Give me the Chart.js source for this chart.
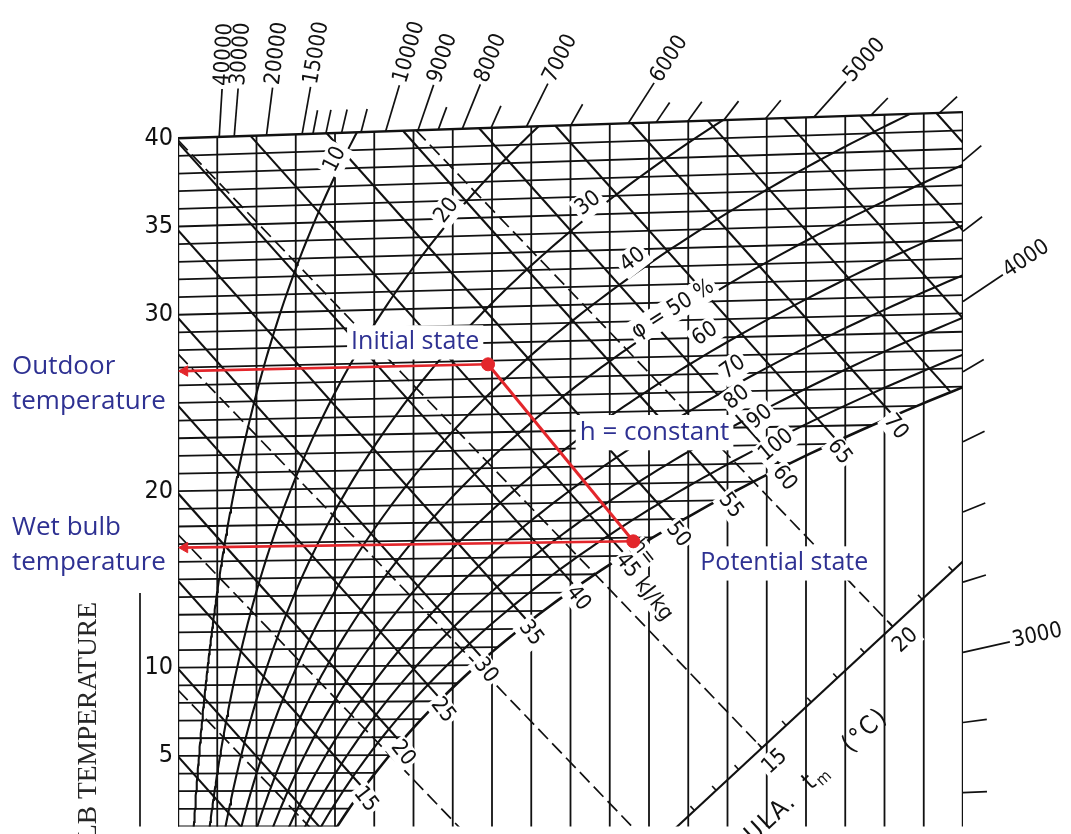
<!DOCTYPE html>
<html>
<head>
<meta charset="utf-8">
<script src="https://cdn.jsdelivr.net/npm/chart.js@4.4.1/dist/chart.umd.min.js"></script>
<style>
  html, body { margin: 0; padding: 0; background: #fff; }
  #wrap { width: 1071px; height: 834px; position: relative; }
</style>
</head>
<body>
<div id="wrap"><canvas id="hx"></canvas></div>
<script>
// values
const moistureLines = [0, 1, 2, 3, 4, 5, 6, 7, 8, 9, 10, 11, 12, 13, 14, 15, 16, 17, 18, 19, 20]; // g/kg
const isothermLines = [0, 1, 2, 3, 4, 5, 6, 7, 8, 9, 10, 11, 12, 13, 14, 15, 16, 17, 18, 19, 20,
                       21, 22, 23, 24, 25, 26, 27, 28, 29, 30, 31, 32, 33, 34, 35, 36, 37, 38, 39, 40]; // °C
const enthalpyLines = [5, 10, 15, 20, 25, 30, 35, 40, 45, 50, 55, 60, 65, 70, 75, 80, 85, 90]; // kJ/kg
const rhLines = [10, 20, 30, 40, 50, 60, 70, 80, 90]; // %
const wetBulbLines = [0, 5, 10, 15, 20]; // °C, dashed
const tempTicks = [5, 10, 20, 30, 35, 40];
const enthalpyTicks = [15, 20, 25, 30, 35, 40, 45, 50, 55, 60, 65, 70];
const edgeTicks = [40000, 30000, 20000, 15000, 14000, 13000, 12000, 11000, 10000, 9000, 8500, 8000, 7500,
                   7000, 6500, 6000, 5800, 5600, 5400, 5200, 5000, 4800, 4600, 4400, 4200, 4000, 3800,
                   3600, 3400, 3200, 3000, 2800, 2600];
const edgeTickLabels = [40000, 30000, 20000, 15000, 10000, 9000, 8000, 7000, 6000, 5000, 4000, 3000];
const wbScaleTicks = [12, 13, 14, 15, 16, 17, 18, 19, 20, 21, 22];
const wbScaleLabels = [15, 20];
const rhLabelText = ['10', '20', '30', '40', 'φ = 50 %', '60', '70', '80', '90', '100'];
const rhLabelX = [4.0, 6.85, 10.45, 11.59, 12.61, 13.43, 14.14, 14.24, 14.83, 15.24];
const rhLabelY = [38.8, 35.9, 36.3, 33.1, 30.3, 28.9, 27.0, 25.3, 24.2, 22.6];
const rhLabelAngle = [-63, -52, -38, -38, -32, -35, -35, -38, -40, -40];
const stateX = [7.9, 11.6];   // initial, potential (g/kg)
const stateT = [26.8, 16.8];  // °C

const INK = '#111';
const RED = '#e3262b';
const BLUE = '#2e3192';
const NUM_FONT = '"DejaVu Sans Condensed", "Liberation Sans Narrow", "DejaVu Sans", sans-serif';
const LBL_FONT = '"Open Sans", "Noto Sans", sans-serif';

// h-x (Mollier) geometry
const P_ATM = 101.325, R0 = 2.501, CPA = 1.006, CPV = 0.00186;
const X_MAX = 20, T_TOP = 40, EDGE_POLE = 0.95, WB_SLOPE = -2.315;
const WB_SCALE = { x0: 12.72, y0: 1.0, slope: 2.064 };
const Y_MIN = 1.0, Y_MAX = 47.41;

function pSat(t) { return 0.61094 * Math.exp(17.625 * t / (t + 243.04)); }
function tFromP(p) { const L = Math.log(p / 0.61094); return 243.04 * L / (17.625 - L); }
function xOf(t, phi) { const pw = phi * pSat(t); return 622 * pw / (P_ATM - pw); }
function hOf(t, x) { return CPA * t + x * (R0 + CPV * t); }
function yOf(t, x) { return (hOf(t, x) - R0 * x) / CPA; }
function yOfH(h, x) { return (h - R0 * x) / CPA; }
function tOfX(x, phi) { return tFromP(x * P_ATM / (622 + x) / phi); }
function tSatOfH(h) {
  let a = -30, b = 60;
  for (let i = 0; i < 60; i++) {
    const m = (a + b) / 2;
    if (hOf(m, xOf(m, 1)) > h) b = m; else a = m;
  }
  return (a + b) / 2;
}
function satPoint(t) { const x = xOf(t, 1); return { x: x, y: yOf(t, x) }; }

function seg(points, extra) {
  return Object.assign({
    data: points, showLine: true, pointRadius: 0, pointHoverRadius: 0,
    borderColor: INK, borderWidth: 1.8, fill: false, order: 1
  }, extra || {});
}

const datasets = [];

// red annotation: state points, h = constant, arrows along isotherms
const stateY = stateT.map((t, i) => yOf(t, stateX[i]));
datasets.push({ annot: true, order: 0, data: stateX.map((x, i) => ({ x: x, y: stateY[i] })),
  showLine: false, pointRadius: 6.5, pointBackgroundColor: RED, pointBorderColor: RED });
datasets.push(seg(stateX.map((x, i) => ({ x: x, y: stateY[i] })), { annot: true, order: 0, borderColor: RED, borderWidth: 3 }));
stateT.forEach((t, i) => {
  datasets.push(seg([{ x: stateX[i], y: stateY[i] }, { x: 0.05, y: yOf(t, 0.05) }],
    { annot: true, order: 0, borderColor: RED, borderWidth: 2.6 }));
  datasets.push({ annot: true, order: 0, data: [{ x: 0.17, y: yOf(t, 0.17) }], showLine: false,
    pointStyle: 'triangle', pointRotation: 270, pointRadius: 6, pointBackgroundColor: RED, pointBorderColor: RED });
});

// vertical lines of constant moisture content
moistureLines.forEach(x => {
  const edge = x === 0 || x === X_MAX;
  datasets.push(seg([{ x: x, y: Y_MIN - 1 }, { x: x, y: yOf(T_TOP, x) }], { borderWidth: edge ? 2.4 : 1.8 }));
});

// isotherms up to the saturation curve
isothermLines.forEach(t => {
  const xe = Math.min(xOf(t, 1), X_MAX);
  datasets.push(seg([{ x: 0, y: yOf(t, 0) }, { x: xe, y: yOf(t, xe) }], { borderWidth: t === T_TOP ? 2.4 : 1.8 }));
});

// enthalpy lines
enthalpyLines.forEach(h => {
  let start;
  if (h <= hOf(T_TOP, 0)) start = { x: 0, y: yOfH(h, 0) };
  else { const x0 = (h - CPA * T_TOP) / (R0 + CPV * T_TOP); start = { x: x0, y: yOf(T_TOP, x0) }; }
  let xe = xOf(tSatOfH(h), 1);
  if (xe > X_MAX) xe = X_MAX;
  datasets.push(seg([start, { x: xe, y: yOfH(h, xe) }], { borderWidth: 2.1 }));
});

// relative humidity curves and saturation
function rhCurve(phi) {
  const pts = [];
  for (let t = -12; t <= T_TOP + 0.001; t += 0.25) {
    const x = xOf(t, phi);
    if (x > X_MAX) { const t20 = tOfX(X_MAX, phi); pts.push({ x: X_MAX, y: yOf(t20, X_MAX) }); return pts; }
    pts.push({ x: x, y: yOf(t, x) });
  }
  return pts;
}
rhLines.forEach(p => datasets.push(seg(rhCurve(p / 100), { borderWidth: 2.1 })));
datasets.push(seg(rhCurve(1), { borderWidth: 2.6 }));

// wet-bulb lines (dashed) ending at the t_m scale
function wbLine(tw) {
  const s = satPoint(tw);
  const c = s.y - WB_SLOPE * s.x;          // y at x = 0
  const topK = CPV * T_TOP / CPA;
  let start;
  if (c <= yOf(T_TOP, 0)) start = { x: 0, y: c };
  else { const x0 = (c - T_TOP) / (topK - WB_SLOPE); start = { x: x0, y: c + WB_SLOPE * x0 }; }
  const sc = WB_SCALE.y0 - WB_SCALE.slope * WB_SCALE.x0;
  const xe = (c - sc) / (WB_SCALE.slope - WB_SLOPE);
  return { start: start, end: { x: xe, y: c + WB_SLOPE * xe } };
}
wetBulbLines.forEach(tw => {
  const l = wbLine(tw);
  datasets.push(seg([l.start, l.end], { borderWidth: 1.7, borderDash: [14, 6] }));
});

// t_m scale line
datasets.push(seg([
  { x: WB_SCALE.x0 - 1 / WB_SCALE.slope, y: WB_SCALE.y0 - 1 },
  { x: X_MAX, y: WB_SCALE.y0 + WB_SCALE.slope * (X_MAX - WB_SCALE.x0) }
], { borderWidth: 2.1 }));

// text helper
function putText(ctx, str, x, y, deg, font, opt) {
  opt = opt || {};
  ctx.save();
  ctx.translate(x, y);
  ctx.rotate(deg * Math.PI / 180);
  ctx.font = font;
  ctx.textAlign = opt.align || 'center';
  ctx.textBaseline = opt.baseline || 'middle';
  if (opt.bg) {
    const w = ctx.measureText(str).width;
    const fs = parseFloat(font);
    const pad = opt.pad == null ? 2 : opt.pad;
    let x0 = -w / 2;
    if (ctx.textAlign === 'left') x0 = 0;
    if (ctx.textAlign === 'right') x0 = -w;
    const y0 = ctx.textBaseline === 'middle' ? -fs * 0.45 : -fs * 0.8;
    ctx.fillStyle = '#fff';
    ctx.fillRect(x0 - pad, y0 - pad, w + 2 * pad, fs * (ctx.textBaseline === 'middle' ? 0.9 : 1.05) + 2 * pad);
  }
  ctx.fillStyle = opt.color || INK;
  ctx.fillText(str, 0, 0);
  ctx.restore();
}

let labelsDone = false;

function drawChartLabels(chart) {
  const ctx = chart.ctx, xs = chart.scales.x, ys = chart.scales.y, area = chart.chartArea;
  const px = v => xs.getPixelForValue(v), py = v => ys.getPixelForValue(v);
  const kx = px(1) - px(0), ky = py(0) - py(1);

  // temperature numbers on the left edge
  tempTicks.forEach(t => putText(ctx, String(t), area.left - 5, py(yOf(t, 0)), 0, '25px ' + NUM_FONT, { align: 'right' }));

  // relative humidity labels
  rhLabelText.forEach((s, i) => putText(ctx, s, px(rhLabelX[i]), py(rhLabelY[i]), rhLabelAngle[i], '22px ' + NUM_FONT, { bg: true, pad: 3 }));

  // enthalpy labels at the saturation curve
  const hAng = Math.atan2(ky * R0 / CPA, kx) * 180 / Math.PI + 4;
  enthalpyTicks.forEach(h => {
    const t = tSatOfH(h), x = xOf(t, 1);
    const ax = px(x) + 2, ay = py(yOfH(h, x)) + 11;
    if (h === 45) {
      ctx.save();
      ctx.font = '22px ' + NUM_FONT;
      const w45 = ctx.measureText('45').width;
      ctx.restore();
      const a = hAng * Math.PI / 180;
      putText(ctx, '45 kJ/kg', ax - Math.cos(a) * w45 / 2, ay - Math.sin(a) * w45 / 2, hAng, '22px ' + NUM_FONT, { align: 'left', bg: true, pad: 1 });
      putText(ctx, 'h=', ax + Math.sin(a) * 21, ay - Math.cos(a) * 21, hAng, '20px ' + NUM_FONT, { bg: true, pad: 1 });
    } else {
      putText(ctx, String(h), ax, ay, hAng, '22px ' + NUM_FONT, { bg: true, pad: 2 });
    }
  });

  // t_m scale ticks and labels
  const sAng = Math.atan2(-ky * WB_SCALE.slope, kx);
  const ux = Math.cos(sAng), uy = Math.sin(sAng);
  const nx = -uy, ny = ux; // normal pointing down-right
  ctx.save();
  ctx.strokeStyle = INK; ctx.lineWidth = 1.6;
  wbScaleTicks.forEach(tw => {
    const e = wbLine(tw).end;
    if (e.x > X_MAX) return;
    const x0 = px(e.x), y0 = py(e.y);
    ctx.beginPath(); ctx.moveTo(x0, y0); ctx.lineTo(x0 - nx * 6, y0 - ny * 6); ctx.stroke();
  });
  ctx.restore();
  wbScaleLabels.forEach(tw => {
    const e = wbLine(tw).end;
    putText(ctx, String(tw), px(e.x) + nx * 19, py(e.y) + ny * 19, sAng * 180 / Math.PI, '22px ' + NUM_FONT, { bg: true, pad: 2 });
  });
  const e18 = wbLine(18.3).end;
  const tx = px(e18.x) + nx * 58, ty = py(e18.y) + ny * 58;
  ctx.save();
  ctx.translate(tx, ty); ctx.rotate(sAng);
  ctx.textBaseline = 'middle'; ctx.textAlign = 'left'; ctx.fillStyle = INK;
  if ('letterSpacing' in ctx) ctx.letterSpacing = '2px';
  const f1 = '25px ' + NUM_FONT, f2 = '16px ' + NUM_FONT;
  ctx.font = f1; const wA = ctx.measureText('ULA.  t').width, wC = ctx.measureText('   (°C)').width;
  ctx.font = f2; const wB = ctx.measureText('m').width;
  let cx = -(wA + wB + wC);
  ctx.font = f1; ctx.fillText('ULA.  t', cx, 0); cx += wA;
  ctx.font = f2; ctx.fillText('m', cx, 7); cx += wB;
  ctx.font = f1; ctx.fillText('   (°C)', cx, 0);
  ctx.restore();

  // blue annotation texts
  const lf = '26px ' + LBL_FONT;
  const iX = px(stateX[0]), iY = py(stateY[0]), pX = px(stateX[1]), pY = py(stateY[1]);
  putText(ctx, 'Initial state', iX - 137, iY - 15, 0, '25px ' + LBL_FONT, { align: 'left', baseline: 'alphabetic', bg: true, pad: 4, color: BLUE });
  putText(ctx, 'Potential state', pX + 67, pY + 29, 0, '25px ' + LBL_FONT, { align: 'left', baseline: 'alphabetic', bg: true, pad: 4, color: BLUE });
  putText(ctx, 'h = constant', (iX + pX) / 2 + 19, (iY + pY) / 2 - 13, 0, lf, { align: 'left', baseline: 'alphabetic', bg: true, pad: 4, color: BLUE });
  const oY = py(yOf(stateT[0], 0)), wY = py(yOf(stateT[1], 0));
  putText(ctx, 'Outdoor', 12, oY + 3, 0, lf, { align: 'left', baseline: 'alphabetic', color: BLUE });
  putText(ctx, 'temperature', 12, oY + 38, 0, lf, { align: 'left', baseline: 'alphabetic', color: BLUE });
  putText(ctx, 'Wet bulb', 12, wY - 13, 0, lf, { align: 'left', baseline: 'alphabetic', color: BLUE });
  putText(ctx, 'temperature', 12, wY + 22, 0, lf, { align: 'left', baseline: 'alphabetic', color: BLUE });
}

function drawOuter(chart) {
  const ctx = chart.ctx, xs = chart.scales.x, ys = chart.scales.y, area = chart.chartArea;
  const px = v => xs.getPixelForValue(v), py = v => ys.getPixelForValue(v);
  const kx = px(1) - px(0), ky = py(0) - py(1);
  const topK = CPV * T_TOP / CPA;

  // edge scale (dh/dx) ticks around the frame
  ctx.save();
  ctx.strokeStyle = INK; ctx.lineWidth = 1.7;
  edgeTicks.forEach(q => {
    const m = (q / 1000 - R0) / CPA;
    let xh = (T_TOP - EDGE_POLE) / (m - topK), yh;
    if (xh > X_MAX || xh < 0) { xh = X_MAX; yh = EDGE_POLE + m * X_MAX; } else yh = EDGE_POLE + m * xh;
    const x0 = px(xh), y0 = py(yh);
    let dx = kx, dy = -ky * m;
    const n = Math.hypot(dx, dy); dx /= n; dy /= n;
    const lab = edgeTickLabels.includes(q);
    const len = lab ? 48 : 24;
    ctx.beginPath(); ctx.moveTo(x0, y0); ctx.lineTo(x0 + dx * len, y0 + dy * len); ctx.stroke();
    if (lab) putText(ctx, String(q), x0 + dx * (len + 3), y0 + dy * (len + 3), Math.atan2(dy, dx) * 180 / Math.PI, '22px ' + NUM_FONT, { align: 'left' });
  });
  // bracket line beside the axis title
  ctx.beginPath(); ctx.moveTo(area.left - 38, 593); ctx.lineTo(area.left - 38, area.bottom); ctx.stroke();
  ctx.restore();

  putText(ctx, 'DRY BULB TEMPERATURE', 96, 602, -90, '27.5px "Liberation Serif", "DejaVu Serif", serif',
    { align: 'right', baseline: 'alphabetic', color: '#262626' });
}

const hxText = {
  id: 'hxText',
  beforeDraw() { labelsDone = false; },
  beforeDatasetDraw(chart, args) {
    if (!labelsDone && chart.data.datasets[args.index].annot) { drawChartLabels(chart); labelsDone = true; }
  },
  afterDatasetsDraw(chart) {
    if (!labelsDone) { drawChartLabels(chart); labelsDone = true; }
    drawOuter(chart);
  }
};

new Chart(document.getElementById('hx').getContext('2d'), {
  type: 'scatter',
  data: { datasets: datasets },
  options: {
    responsive: true,
    maintainAspectRatio: false,
    animation: false,
    events: [],
    layout: { padding: { left: 178, right: 108, top: 0, bottom: 0 } },
    scales: {
      x: { type: 'linear', min: 0, max: X_MAX, display: false },
      y: { type: 'linear', min: Y_MIN, max: Y_MAX, display: false }
    },
    plugins: { legend: { display: false }, tooltip: { enabled: false } }
  },
  plugins: [hxText]
});
</script>
</body>
</html>
